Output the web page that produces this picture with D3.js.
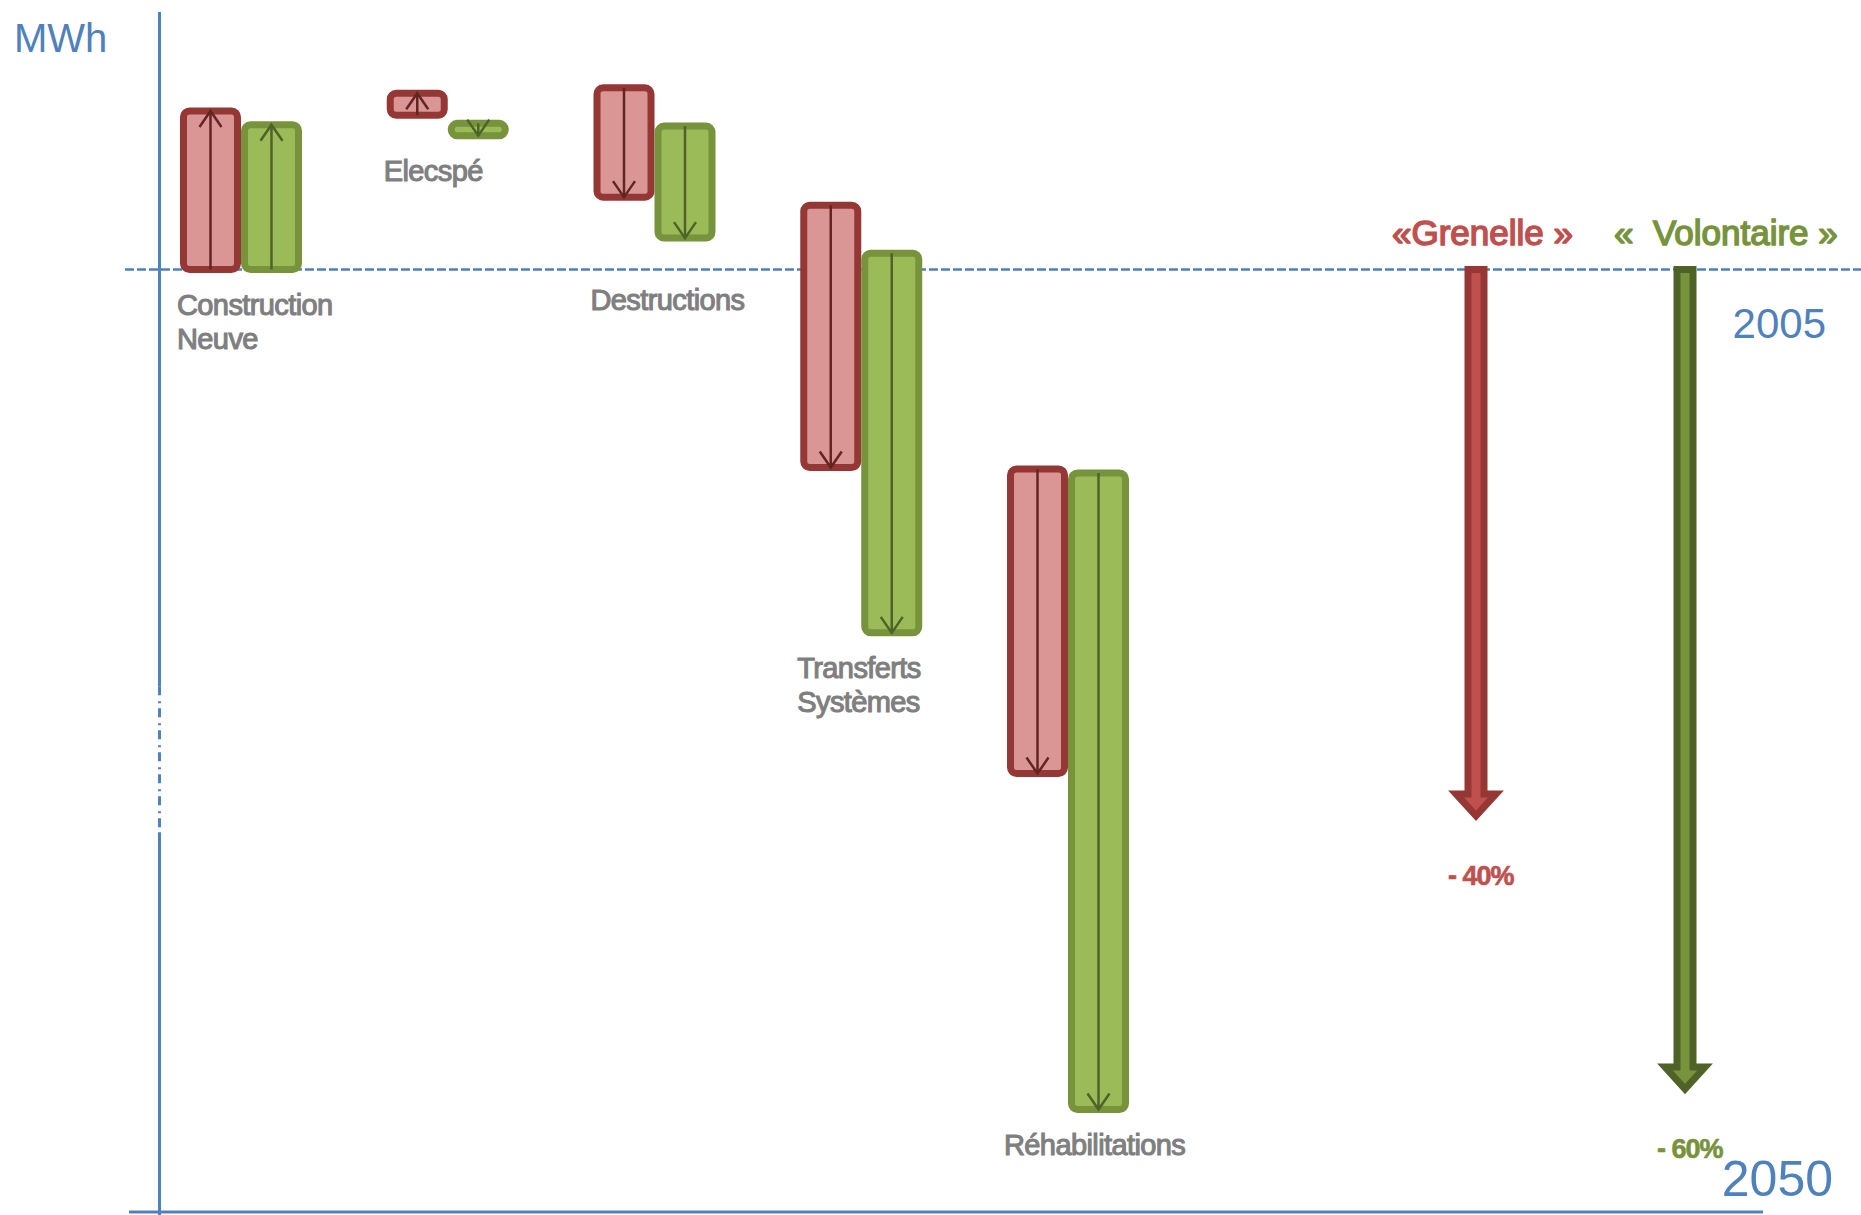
<!DOCTYPE html>
<html lang="fr">
<head>
<meta charset="utf-8">
<title>Consommation d'énergie : 2005 – 2050</title>
<script src="https://cdn.jsdelivr.net/npm/d3@7"></script>
<style>
  html, body { margin: 0; padding: 0; background: #ffffff; }
  svg { display: block; }
  text { font-family: "Liberation Sans", Arial, Helvetica, sans-serif; white-space: pre; }
</style>
</head>
<body>
<svg id="chart" width="1861" height="1215"></svg>
<script>
// ---- Data (variation relative to the 2005 level, in % of 2005 consumption) ----
const categories = ["Construction Neuve", "Elecspé", "Destructions", "Transferts Systèmes", "Réhabilitations"];
const scenarios = ["Grenelle", "Volontaire"];
const scenarioTitles = ["«Grenelle »", "«  Volontaire »"];

// start / end of each step, scenario « Grenelle »
const grenelleStart = [0, 11.3, 13.3, 4.7, -14.6];
const grenelleEnd   = [11.6, 12.9, 5.3, -14.5, -36.9];
// start / end of each step, scenario « Volontaire »
const volontaireStart = [0, 10.7, 10.5, 1.2, -14.9];
const volontaireEnd   = [10.6, 9.8, 2.3, -26.6, -61.5];

// overall change 2005 -> 2050 for each scenario
const scenarioTargets = [-40, -60];

const unitLabel = "MWh";
const yearLabels = ["2005", "2050"];
const axisBreak = [-30.5, -41.2];   // interrupted stretch of the vertical axis
const yDomain = [19, -69];

// ---- Styles ----
const blue = "#4F81BD";
const grey = "#7F7F7F";
const seriesStyle = {
  Grenelle:   { fill: "#D99694", stroke: "#953735", arrow: "#632523", text: "#C0504D", big: "#C0504D", bigStroke: "#953735" },
  Volontaire: { fill: "#9BBB59", stroke: "#77933C", arrow: "#4F6228", text: "#77933C", big: "#77933C", bigStroke: "#4F6228" }
};

const svg = d3.select("#chart");
const W = 1861;

// ---- Scales ----
const y = d3.scaleLinear().domain(yDomain).range([10, 1212]);
const x = d3.scaleBand().domain(categories).range([180, 1129]).paddingInner(0.41).paddingOuter(0);
const xs = d3.scaleBand().domain(scenarios).range([0, x.bandwidth()]).padding(0);
const xScen = d3.scalePoint().domain(scenarios).range([1476, 1685]);

const y0 = y(0);
const axisX = 159.5;

// rows for the steps
const steps = [];
categories.forEach((c, i) => {
  steps.push({ cat: c, s: "Grenelle", start: grenelleStart[i], end: grenelleEnd[i] });
  steps.push({ cat: c, s: "Volontaire", start: volontaireStart[i], end: volontaireEnd[i] });
});

// ---- Axes ----
const axes = svg.append("g");
// vertical axis, drawn in three pieces around the break
axes.append("line")
  .attr("x1", axisX).attr("x2", axisX)
  .attr("y1", y.range()[0] + 2).attr("y2", y(axisBreak[0]))
  .attr("stroke", blue).attr("stroke-width", 3);
axes.append("line")
  .attr("x1", axisX).attr("x2", axisX)
  .attr("y1", y(axisBreak[0])).attr("y2", y(axisBreak[1]))
  .attr("stroke", blue).attr("stroke-width", 3)
  .attr("stroke-dasharray", "9,6,2,5");
axes.append("line")
  .attr("x1", axisX).attr("x2", axisX)
  .attr("y1", y(axisBreak[1])).attr("y2", 1215)
  .attr("stroke", blue).attr("stroke-width", 3);
// horizontal axis (2050 level)
axes.append("line")
  .attr("x1", 129).attr("x2", 1763)
  .attr("y1", y(yDomain[1])).attr("y2", y(yDomain[1]))
  .attr("stroke", blue).attr("stroke-width", 3);
// 2005 reference level
axes.append("line")
  .attr("x1", 125).attr("x2", W)
  .attr("y1", y0).attr("y2", y0)
  .attr("stroke", blue).attr("stroke-width", 2.5)
  .attr("stroke-dasharray", "9,3");

// ---- Step boxes ----
const sw = 7;
const boxes = svg.append("g").selectAll("g.step").data(steps).join("g").attr("class", "step");

boxes.append("rect")
  .attr("x", d => x(d.cat) + xs(d.s) + sw / 2)
  .attr("width", xs.bandwidth() - sw)
  .attr("y", d => y(Math.max(d.start, d.end)))
  .attr("height", d => Math.abs(y(d.start) - y(d.end)))
  .attr("rx", 6).attr("ry", 6)
  .attr("fill", d => seriesStyle[d.s].fill)
  .attr("stroke", d => seriesStyle[d.s].stroke)
  .attr("stroke-width", sw);

// arrow inside each box, from start to end of the step
boxes.append("line")
  .attr("x1", d => x(d.cat) + xs(d.s) + xs.bandwidth() / 2)
  .attr("x2", d => x(d.cat) + xs(d.s) + xs.bandwidth() / 2)
  .attr("y1", d => y(d.start))
  .attr("y2", d => y(d.end))
  .attr("stroke", d => seriesStyle[d.s].arrow)
  .attr("stroke-width", 2.5);

boxes.append("path")
  .attr("d", d => {
    const cx = x(d.cat) + xs(d.s) + xs.bandwidth() / 2;
    const ty = y(d.end);
    const dir = d.end > d.start ? 1 : -1;   // 1 = pointing up
    const h = 16, w = 11;
    return `M${cx - w},${ty + dir * h} L${cx},${ty} L${cx + w},${ty + dir * h}`;
  })
  .attr("fill", "none")
  .attr("stroke", d => seriesStyle[d.s].arrow)
  .attr("stroke-width", 2.5)
  .attr("stroke-linejoin", "miter");

// ---- Category labels ----
const catLabels = svg.append("g").selectAll("text").data(categories).join("text")
  .attr("x", c => x(c) - 3)
  .attr("y", (c, i) => {
    const lowest = Math.max(
      y(Math.min(grenelleStart[i], grenelleEnd[i])),
      y(Math.min(volontaireStart[i], volontaireEnd[i]))
    ) + sw / 2;
    let base = lowest + 42;
    // keep the label clear of the 2005 reference line
    if (base - 26 < y0 + 4 && base + 8 > y0 - 4) base = y0 + 40;
    return base;
  })
  .attr("fill", grey)
  .attr("stroke", grey).attr("stroke-width", 1.1)
  .attr("font-size", 29)
  .attr("letter-spacing", -0.6);

catLabels.each(function (c) {
  const t = d3.select(this);
  const baseY = +t.attr("y");
  c.split(" ").forEach((word, k) => {
    t.append("tspan").attr("x", t.attr("x")).attr("y", baseY + k * 34).text(word);
  });
});

// ---- Scenario arrows (2005 -> 2050) ----
const scen = svg.append("g").selectAll("g").data(scenarios).join("g");

scen.append("path")
  .attr("d", (s, i) => {
    const cx = xScen(s);
    const tip = y(scenarioTargets[i]);
    const hw = 8, hh = 20, hl = 22;
    return `M${cx - hw},${y0} L${cx + hw},${y0} L${cx + hw},${tip - hl} L${cx + hh},${tip - hl}` +
           ` L${cx},${tip} L${cx - hh},${tip - hl} L${cx - hw},${tip - hl} Z`;
  })
  .attr("fill", s => seriesStyle[s].big)
  .attr("stroke", s => seriesStyle[s].bigStroke)
  .attr("stroke-width", 7)
  .attr("stroke-linejoin", "miter");

scen.append("text")
  .attr("x", (s, i) => xScen(s) - (i === 0 ? 84 : 71))
  .attr("y", 245)
  .attr("fill", s => seriesStyle[s].text)
  .attr("stroke", s => seriesStyle[s].text).attr("stroke-width", 1.5)
  .attr("font-size", 35)
  .text((s, i) => scenarioTitles[i]);

scen.append("text")
  .attr("x", s => xScen(s) - 28)
  .attr("y", (s, i) => y(scenarioTargets[i]) + 69)
  .attr("fill", s => seriesStyle[s].text)
  .attr("stroke", s => seriesStyle[s].text).attr("stroke-width", 0.6)
  .attr("font-size", 27)
  .attr("font-weight", "bold")
  .attr("letter-spacing", -1)
  .text((s, i) => `- ${Math.abs(scenarioTargets[i])}%`);

// ---- Unit and year labels ----
svg.append("text")
  .attr("x", 14).attr("y", 52)
  .attr("fill", blue).attr("font-size", 40)
  .text(unitLabel);

svg.append("text")
  .attr("x", 1826).attr("y", y0 + 68)
  .attr("text-anchor", "end")
  .attr("fill", blue).attr("font-size", 42)
  .text(yearLabels[0]);

svg.append("text")
  .attr("x", 1833).attr("y", y(yDomain[1]) - 16)
  .attr("text-anchor", "end")
  .attr("fill", blue).attr("font-size", 50)
  .text(yearLabels[1]);
</script>
</body>
</html>
